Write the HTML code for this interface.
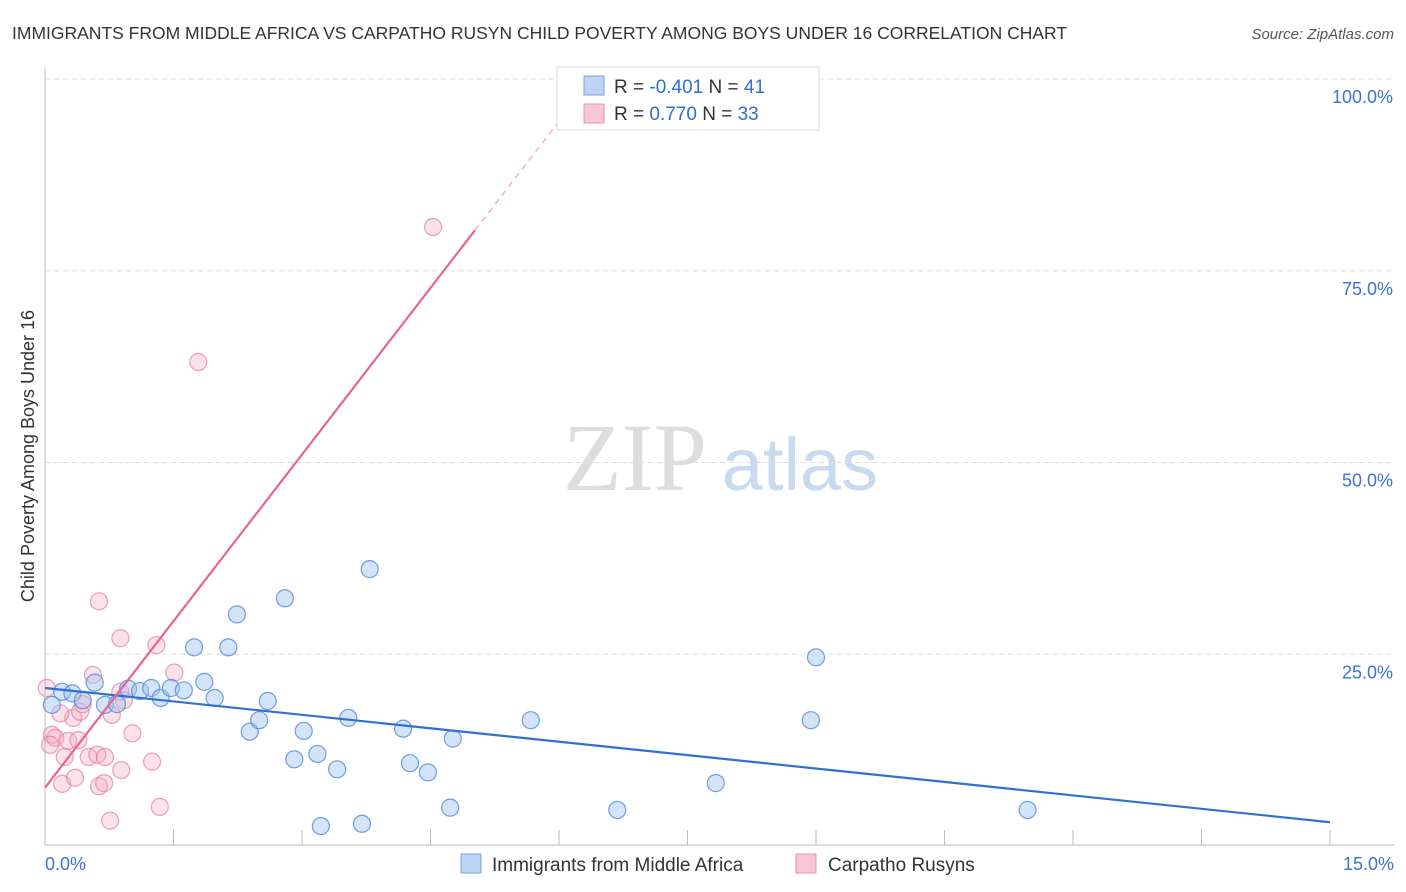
<!DOCTYPE html>
<html><head><meta charset="utf-8"><style>
body{margin:0;background:#fff;font-family:"Liberation Sans",sans-serif;}
#wrap{position:relative;width:1406px;height:892px;overflow:hidden;}
</style></head><body>
<div id="wrap">
<svg id="svg" width="1406" height="892" xmlns="http://www.w3.org/2000/svg">
<text x="12" y="39" font-size="17.5" fill="#333">IMMIGRANTS FROM MIDDLE AFRICA VS CARPATHO RUSYN CHILD POVERTY AMONG BOYS UNDER 16 CORRELATION CHART</text>
<text x="1394" y="39" font-size="15" fill="#555" font-style="italic" text-anchor="end">Source: ZipAtlas.com</text>
<text x="34" y="456" font-size="18" fill="#333" text-anchor="middle" transform="rotate(-90 34 456)">Child Poverty Among Boys Under 16</text>
<g><text x="635" y="490" font-size="96" font-family="Liberation Serif,serif" fill="#ddd" text-anchor="middle">ZIP</text><text x="800" y="490" font-size="74" fill="#c9d9ef" text-anchor="middle">atlas</text></g>
<g id="grid"></g><g id="axes"></g><g id="pts"></g><g id="lines"></g>
<g>
<rect x="557" y="67" width="262" height="63" fill="#fff" stroke="#ddd"/>
<rect x="584" y="76" width="20" height="19" fill="#bcd3f3" stroke="#7aa3de"/>
<rect x="584" y="104" width="20" height="19" fill="#f8c6d5" stroke="#eb92ae"/>
<text x="614" y="93" font-size="19" fill="#333">R = <tspan fill="#2f6fd0">-0.401</tspan>   N = <tspan fill="#2f6fd0">41</tspan></text>
<text x="614" y="120" font-size="19" fill="#333">R =  <tspan fill="#2f6fd0">0.770</tspan>   N = <tspan fill="#2f6fd0">33</tspan></text>
</g>
<g>
<rect x="461" y="854" width="20" height="19" fill="#bcd3f3" stroke="#7aa3de"/>
<text x="492" y="871" font-size="19" fill="#333">Immigrants from Middle Africa</text>
<rect x="796" y="854" width="20" height="19" fill="#f8c6d5" stroke="#eb92ae"/>
<text x="828" y="871" font-size="19" fill="#333">Carpatho Rusyns</text>
</g>
</svg>
</div>
<script>
const yTicks=[25,50,75,100];
const yTickLabels=["25.0%","50.0%","75.0%","100.0%"];
const xLabels=["0.0%","15.0%"];
const blueX=[0.20,0.32,0.44,0.58,0.70,0.84,0.97,1.11,1.24,1.35,1.47,1.62,1.74,1.86,1.98,2.14,2.24,2.39,2.50,2.60,2.80,2.91,3.02,3.18,3.22,3.41,3.54,3.70,3.79,4.18,4.26,4.47,4.76,4.73,5.67,6.68,7.83,8.94,9.00,11.47,0.08];
const blueY=[20.1,19.9,19.0,21.3,18.4,18.5,20.5,20.2,20.6,19.3,20.6,20.3,25.9,21.4,19.3,25.9,30.2,14.9,16.4,18.9,32.3,11.3,15.0,12.0,2.6,10.0,16.7,2.9,36.1,15.3,10.8,9.6,14.0,5.0,16.4,4.7,8.2,16.4,24.6,4.7,18.4];
const pinkX=[0.02,0.08,0.12,0.20,0.23,0.27,0.33,0.35,0.41,0.44,0.56,0.63,0.51,0.61,0.63,0.70,0.69,0.76,0.78,0.88,0.89,1.02,0.88,1.25,1.30,1.34,1.51,1.79,4.53,0.18,0.39,0.92,0.06];
const pinkY=[20.6,14.5,14.1,8.1,11.6,13.7,16.7,8.9,17.5,18.5,22.3,31.9,11.6,11.9,7.8,11.6,8.2,3.3,17.1,20.1,9.9,14.7,27.1,11.0,26.2,5.1,22.6,63.1,80.7,17.3,13.8,19.0,13.2];
const blueTrend=[20.6,3.1];
const pinkTrend=[7.6,14.48];
const NS="http://www.w3.org/2000/svg";
const X=v=>45+v/15*1285, Y=v=>846-v*7.67;
function mk(tag,attrs,parent){const e=document.createElementNS(NS,tag);for(const k in attrs)e.setAttribute(k,attrs[k]);document.getElementById(parent).appendChild(e);return e;}
yTicks.forEach((t,i)=>{
 const g=mk('line',{x1:45,x2:1394,y1:Y(t),y2:Y(t),stroke:'#ddd','stroke-dasharray':'5,4'},'grid');
 
 
 const l=mk('text',{x:1393,y:Y(t)+24,'font-size':18,fill:'#3a74d0','text-anchor':'end'},'grid');
 l.textContent=yTickLabels[i];
 
 
});
const ax=mk('line',{x1:45,x2:45,y1:68,y2:845,stroke:'#bbb'},'axes');


const bx=mk('line',{x1:45,x2:1394,y1:845,y2:845,stroke:'#bbb'},'axes');


for(let i=1;i<=10;i++){const t=mk('line',{x1:X(i*1.5),x2:X(i*1.5),y1:830,y2:845,stroke:'#bbb'},'axes');
 
 }
[[0,45,'start'],[15,1394,'end']].forEach((d,i)=>{const t=mk('text',{x:d[1],y:870,'font-size':18,fill:'#3a74d0','text-anchor':d[2]},'axes');t.textContent=xLabels[i];
 
 });
pinkX.forEach((v,i)=>{const c=mk('circle',{cx:X(v),cy:Y(pinkY[i]),r:8.5,fill:'rgba(244,170,195,0.35)',stroke:'rgba(230,120,155,0.7)','stroke-width':1.2},'pts');
 
 });
blueX.forEach((v,i)=>{const c=mk('circle',{cx:X(v),cy:Y(blueY[i]),r:8.5,fill:'rgba(160,195,240,0.45)',stroke:'rgba(80,135,215,0.8)','stroke-width':1.2},'pts');
 
 });
const bl=mk('line',{x1:X(0),y1:Y(blueTrend[0]),x2:X(15),y2:Y(blueTrend[1]),stroke:'#2f6fd6','stroke-width':2.2},'lines');


const xe=5.02, xd=(100-pinkTrend[0])/pinkTrend[1];
const pl=mk('line',{x1:X(0),y1:Y(pinkTrend[0]),x2:X(xe),y2:Y(pinkTrend[0]+pinkTrend[1]*xe),stroke:'#e8648f','stroke-width':2.2},'lines');


const pd=mk('line',{x1:X(xe),y1:Y(pinkTrend[0]+pinkTrend[1]*xe),x2:X(xd),y2:Y(100),stroke:'#f0a0b8','stroke-width':1.2,'stroke-dasharray':'6,5'},'lines');


</script>
</body></html>
